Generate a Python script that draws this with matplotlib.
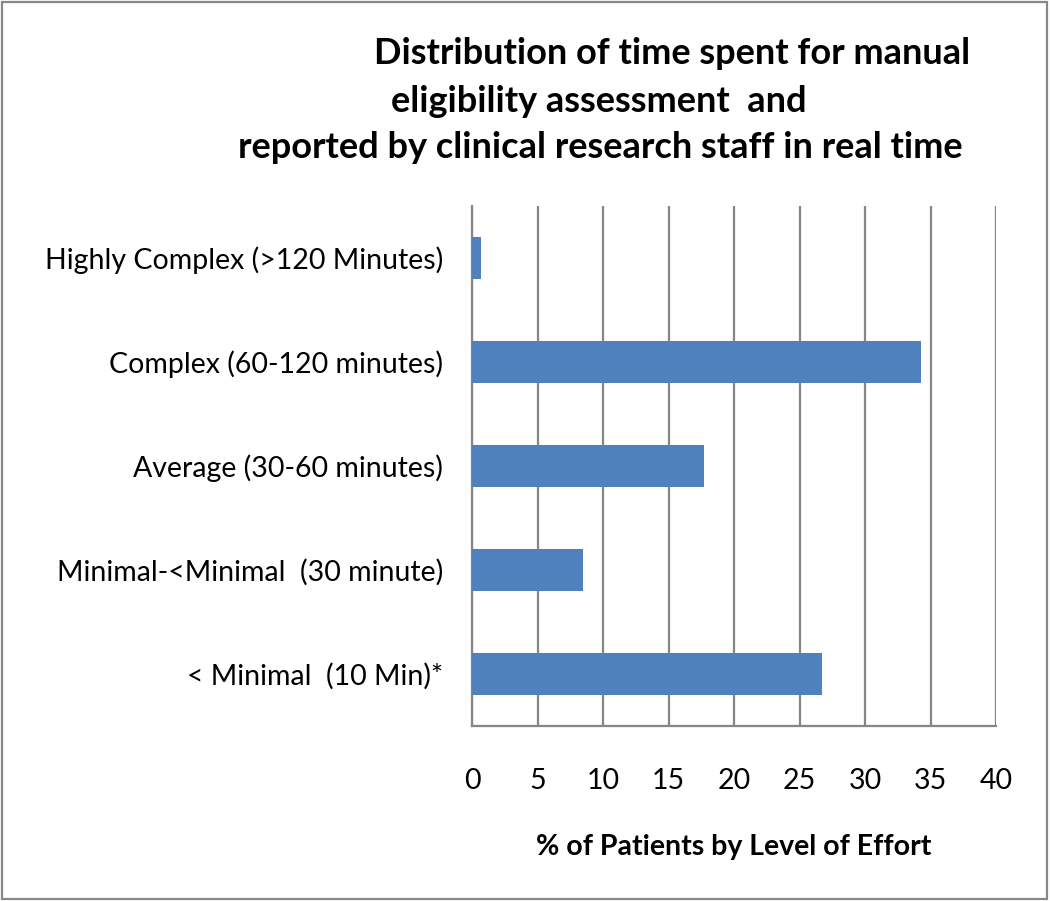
import matplotlib
matplotlib.use("Agg")
import matplotlib.pyplot as plt
from matplotlib.patches import Rectangle

# Data
categories = ["Highly Complex (>120 Minutes)",
              "Complex (60-120 minutes)",
              "Average (30-60 minutes)",
              "Minimal-<Minimal  (30 minute)",
              "< Minimal  (10 Min)*"]
percent = [0.65, 34.3, 17.7, 8.5, 26.7]
xticks = [0, 5, 10, 15, 20, 25, 30, 35, 40]

plt.rcParams["font.family"] = ["Lato", "DejaVu Sans"]

fig = plt.figure(figsize=(10.5, 9.01), dpi=100)
ax = fig.add_axes([472 / 1050, 1 - 726 / 901, (996 - 472) / 1050, (726 - 206) / 901])

y = list(range(len(categories)))[::-1]
ax.barh(y, percent, height=0.4, color="#4F81BD", zorder=3)

ax.set_xlim(0, 40)
ax.set_ylim(-0.5, len(categories) - 0.5)
ax.set_xticks(xticks)
ax.set_xticklabels([str(t) for t in xticks])
ax.set_yticks(y)
ax.set_yticklabels(categories)
ax.tick_params(axis="both", length=0, labelsize=20.5, colors="#000000")
ax.tick_params(axis="x", pad=30)
ax.tick_params(axis="y", pad=21)

ax.grid(axis="x", color="#868686", linewidth=1.6, zorder=1)
for s in ["top", "right"]:
    ax.spines[s].set_visible(False)
for s in ["left", "bottom"]:
    ax.spines[s].set_color("#868686")
    ax.spines[s].set_linewidth(1.6)

ax.set_xlabel("% of Patients by Level of Effort", fontsize=20.5, fontweight="bold", labelpad=29)

# Title lines placed individually as in the reference
fig.text(672 / 1050, 1 - 54 / 901, "Distribution of time spent for manual",
         ha="center", va="center", fontsize=26, fontweight="bold")
fig.text(599 / 1050, 1 - 101 / 901, "eligibility assessment  and",
         ha="center", va="center", fontsize=26, fontweight="bold")
fig.text(600 / 1050, 1 - 147 / 901, "reported by clinical research staff in real time",
         ha="center", va="center", fontsize=26, fontweight="bold")

# outer frame
fig.patches.append(Rectangle((2 / 1050, 2 / 901), 1045 / 1050, 897 / 901,
                             transform=fig.transFigure, fill=False,
                             edgecolor="#888888", linewidth=1.6))

fig.savefig("out.png", dpi=100, facecolor="white")
